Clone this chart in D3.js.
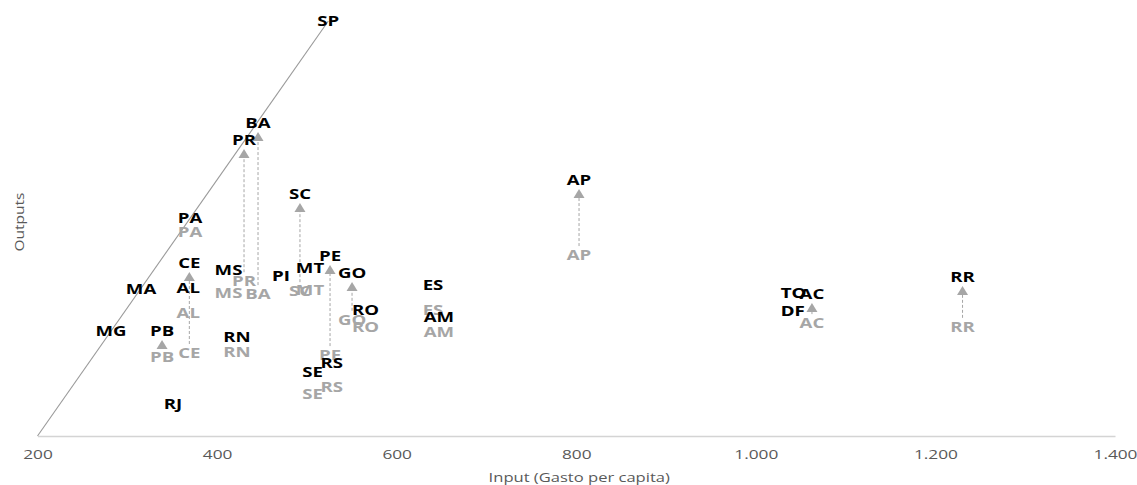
<!DOCTYPE html>
<html><head><meta charset="utf-8">
<script src="https://cdn.jsdelivr.net/npm/d3@7"></script>
<style>body{margin:0;background:#fff;overflow:hidden}</style>
</head><body><svg id="c" width="1137" height="485"></svg>
<script>
const states      = ["SP","BA","PR","PA","MA","MG","CE","AL","PB","RJ","RN","MS","PI","SC","MT","PE","GO","RO","RS","SE","ES","AM","AP","TO","AC","DF","RR"];
const inputs      = [523.9,445.6,430.0,369.8,315.3,281.9,369.1,367.9,338.7,350.9,422.2,412.7,471.2,492.3,503.5,525.8,550.3,565.3,527.6,506.5,640.5,647.1,803.1,1041.9,1062.5,1041.0,1230.2];
const outputs     = [100,75.4,71.3,52.5,35.4,25.3,41.7,35.7,25.3,7.7,23.9,40.0,38.6,58.3,40.5,43.4,39.3,30.4,17.6,15.4,36.4,28.7,61.7,34.5,34.2,30.1,38.3];
const outputsGrey = [null,34.2,37.3,49.2,null,null,20.0,29.6,19.0,null,20.2,34.5,38.6,34.9,35.2,19.5,28.0,26.3,11.8,10.1,30.4,25.1,43.6,34.5,27.2,30.1,26.3];
const arrowStates = ["PR","BA","SC","CE","PE","GO","AP","AC","RR","PB"];
const xTicks = [200,400,600,800,1000,1200,1400];
const frontier = [[200,0],[523.9,100]];
const xTitle = "Input (Gasto per capita)";
const yTitle = "Outputs";

const data = states.map((s,i)=>({s, x:inputs[i], y:outputs[i], g:outputsGrey[i]}));
const svg = d3.select("#c");
const x = d3.scaleLinear().domain([200,1400]).range([37.5,1115]);
const y = d3.scaleLinear().domain([0,100]).range([436,21]);
const SX = 1.38;
const fontL = "'Open Sans', sans-serif";
const loc = d3.formatLocale({decimal:",", thousands:".", grouping:[3], currency:["",""]});
const fmt = loc.format(",");

// x axis
const ax = svg.append("g").attr("transform", `translate(0,${y(0)})`)
  .call(d3.axisBottom(x).tickValues(xTicks).tickSize(0).tickFormat(fmt));
ax.select(".domain").attr("stroke","#d4d4d4").attr("stroke-width",1.6);
ax.selectAll(".tick text")
  .attr("y",0).attr("dy",null)
  .attr("transform",`translate(0,18) scale(${SX},1)`)
  .attr("dominant-baseline","central")
  .attr("fill","#595959").attr("font-size",12.5).attr("font-family",fontL);

svg.append("text")
  .attr("transform",`translate(${(x(200)+x(1400))/2+3},477) scale(${SX},1)`)
  .attr("text-anchor","middle").attr("dominant-baseline","central")
  .attr("fill","#595959").attr("font-size",12).attr("font-family",fontL)
  .text(xTitle);

svg.append("text")
  .attr("transform",`translate(19,222) rotate(-90)`)
  .attr("text-anchor","middle").attr("dominant-baseline","central")
  .attr("fill","#595959").attr("font-size",13).attr("font-family",fontL)
  .attr("textLength",59).attr("lengthAdjust","spacingAndGlyphs")
  .text(yTitle);

// frontier
svg.append("path").datum(frontier)
  .attr("d", d3.line().x(d=>x(d[0])).y(d=>y(d[1])))
  .attr("fill","none").attr("stroke","#9a9a9a").attr("stroke-width",1.1);

// arrows
const arr = data.filter(d=>arrowStates.includes(d.s));
svg.selectAll("line.arr").data(arr).enter().append("line")
  .attr("x1",d=>x(d.x)).attr("x2",d=>x(d.x))
  .attr("y1",d=>y(d.g)-9).attr("y2",d=>y(d.y)+16)
  .attr("stroke","#a6a6a6").attr("stroke-width",1).attr("stroke-dasharray","3,2");
svg.selectAll("path.tri").data(arr).enter().append("path")
  .attr("d",d=>{const cx=x(d.x), t=y(d.y)+9; return `M${cx},${t}L${cx+5.5},${t+9}L${cx-5.5},${t+9}Z`;})
  .attr("fill","#a6a6a6");

// grey labels
svg.selectAll("text.g").data(data.filter(d=>d.g!==null)).enter().append("text")
  .attr("transform",d=>`translate(${x(d.x)},${y(d.g)}) scale(${SX},1)`)
  .attr("text-anchor","middle").attr("dominant-baseline","central")
  .attr("fill","#a6a6a6").attr("font-weight","bold").attr("font-size",13.5).attr("font-family",fontL)
  .text(d=>d.s);

// black labels
svg.selectAll("text.b").data(data).enter().append("text")
  .attr("transform",d=>`translate(${x(d.x)},${y(d.y)}) scale(${SX},1)`)
  .attr("text-anchor","middle").attr("dominant-baseline","central")
  .attr("fill","#000").attr("font-weight","bold").attr("font-size",13.5).attr("font-family",fontL)
  .text(d=>d.s);
</script></body></html>
